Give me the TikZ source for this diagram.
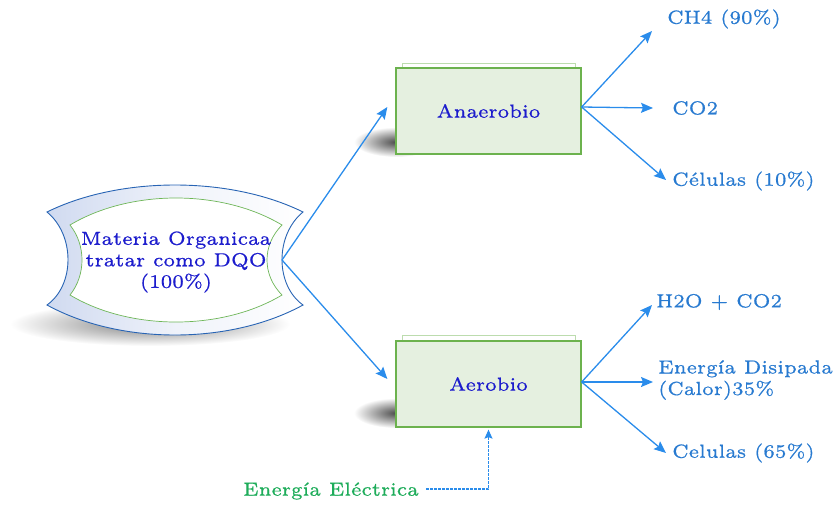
\documentclass[tikz,border=0pt]{standalone}
\usetikzlibrary{arrows.meta}
% wide small-optical-size Latin Modern, set large and slightly emboldened
\font\labelfont="[lmroman6-regular]:mapping=tex-text;embolden=0.6" at 19pt
\newcommand\labelsetup{\labelfont\setlength{\baselineskip}{21.5pt}}
\definecolor{titleblue}{RGB}{28,28,205}
\definecolor{outblue}{RGB}{40,122,208}
\definecolor{arrowblue}{RGB}{42,140,235}
\definecolor{elecgreen}{RGB}{30,172,90}
\definecolor{boxfill}{RGB}{229,240,224}
\definecolor{boxline}{RGB}{108,178,78}
\definecolor{backline}{RGB}{188,220,174}
\definecolor{shapeblue}{RGB}{208,218,240}
\definecolor{shapeline}{RGB}{40,100,180}
\definecolor{innerline}{RGB}{110,182,88}
\begin{document}
\begin{tikzpicture}[x=1pt,y=-1pt,
  txt/.style={font=\labelsetup, inner sep=0pt},
  procbox/.style={draw=boxline, line width=1.3pt, fill=boxfill,
    minimum width=185pt, minimum height=86pt, text=titleblue, txt},
  outlbl/.style={txt, text=outblue, anchor=west, align=left},
  arr/.style={draw=arrowblue, line width=1.3pt, -{Stealth[length=12pt,width=10pt,inset=2pt]}},
  feed/.style={draw=arrowblue, line width=1.1pt, dash pattern=on 2.5pt off 1.5pt,
    -{Stealth[length=9pt,width=8pt,inset=1.5pt]}},
  blur/.style={inner color=black!70, outer color=white}
]
\useasboundingbox (0,0) rectangle (835,504);

% soft shadows
\shade[blur, inner color=black!50] (150,324) ellipse [x radius=140pt, y radius=22pt];
\shade[blur] (396,142) ellipse [x radius=42pt, y radius=15pt];
\shade[blur] (396,413) ellipse [x radius=42pt, y radius=15pt];

% input shape: concave sides, bulging top and bottom
\shade[left color=shapeblue, right color=white, middle color=shapeblue!35]
  (47,212) .. controls (120,176) and (230,176) .. (303,212)
  .. controls (275,235) and (275,285) .. (303,305)
  .. controls (230,345) and (120,345) .. (47,305)
  .. controls (75,285) and (75,235) .. (47,212) -- cycle;
\draw[shapeline, line width=0.9pt]
  (47,212) .. controls (120,176) and (230,176) .. (303,212)
  .. controls (275,235) and (275,285) .. (303,305)
  .. controls (230,345) and (120,345) .. (47,305)
  .. controls (75,285) and (75,235) .. (47,212) -- cycle;
\draw[innerline, line width=0.7pt, fill=white]
  (70,225) .. controls (130,189) and (222,189) .. (282,225)
  .. controls (262,245) and (262,275) .. (282,295)
  .. controls (222,331) and (130,331) .. (70,295)
  .. controls (86,275) and (86,245) .. (70,225) -- cycle;
\node[txt, text=titleblue, align=center] (mat) at (176,262)
  {Materia Organicaa\\tratar como DQO\\(100\%)};
\coordinate (matR) at (282,260);

% stacked sheets behind the process boxes
\draw[backline, fill=white, line width=1pt] (402,63) rectangle (575,100);
\draw[backline, fill=white, line width=1pt] (402,335) rectangle (575,370);

\node[procbox] (ana) at (488.5,111) {Anaerobio};
\node[procbox] (aer) at (488.5,384) {Aerobio};

% products
\node[outlbl] (ch4) at (667,19) {CH4 (90\%)};
\node[outlbl] (co2) at (672,108) {CO2};
\node[outlbl] (cel1) at (672,181) {Células (10\%)};
\node[outlbl] (h2o) at (656,302) {H2O + CO2};
\node[outlbl] (cal) at (658,380) {Energía Disipada\\(Calor)35\%};
\node[outlbl] (cel2) at (672,453) {Celulas (65\%)};
\node[txt, text=elecgreen, anchor=east] (elec) at (419,491) {Energía Eléctrica};

\coordinate (ch4in) at (652,31);
\coordinate (co2in) at (653,108);
\coordinate (cel1in) at (666,180);
\coordinate (h2oin) at (652,305);
\coordinate (calin) at (653,382);
\coordinate (cel2in) at (666,453);

% connectors
\draw[arr] (matR) -- ([xshift=-8pt,yshift=4pt]ana.west);
\draw[arr] (matR) -- ([xshift=-8pt,yshift=5pt]aer.west);
\draw[arr] ([yshift=4pt]ana.east) -- (ch4in);
\draw[arr] ([yshift=4pt]ana.east) -- (co2in);
\draw[arr] ([yshift=4pt]ana.east) -- (cel1in);
\draw[arr] ([yshift=2pt]aer.east) -- (h2oin);
\draw[arr] ([yshift=2pt]aer.east) -- (calin);
\draw[arr] ([yshift=2pt]aer.east) -- (cel2in);
\draw[feed, shorten <=7pt, shorten >=2pt] ([yshift=2pt]elec.east) -| (aer.south);
\end{tikzpicture}
\end{document}
